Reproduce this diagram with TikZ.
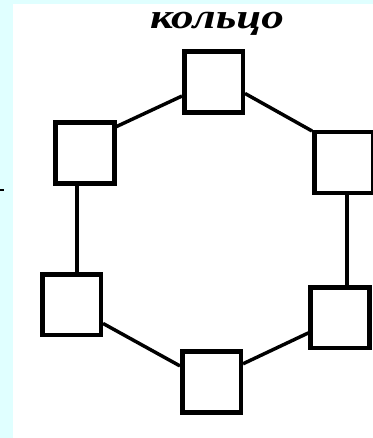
\documentclass[tikz,border=0pt]{standalone}
\usepackage{fontspec}
\usepackage{tikz}
\newfontfamily\ringfont[FakeStretch=1.3]{Liberation Serif}
\definecolor{bgcyan}{RGB}{224,255,255}

\begin{document}
\begin{tikzpicture}[
    x=0.75pt, y=-0.75pt,
    station/.style={rectangle, draw=black, fill=white, line width=3.4pt,
                    minimum width=43.9pt, minimum height=45.4pt, inner sep=0pt},
    link/.style={line width=2.6pt, draw=black},
    title/.style={font=\ringfont\itshape\bfseries\fontsize{26}{26}\selectfont,
                  inner sep=0pt, anchor=base}
]
\useasboundingbox (0,0) rectangle (373,438);
\fill[bgcyan] (0,0) rectangle (373,438);
\fill[white] (13,4) rectangle (373,438);
\draw[line width=1.5pt] (0,190) -- (4,190);

\node[title] (name) at (217,28.5) {кольцо};

\node[station] (top)      at (213.5,82)  {};
\node[station] (upleft)   at (85,153)    {};
\node[station] (upright)  at (343.5,162.5) {};
\node[station] (lowleft)  at (71.5,304.5) {};
\node[station] (lowright) at (340,317.5) {};
\node[station] (bottom)   at (211.5,382) {};

\draw[link] (top.204)      -- (upleft.40);
\draw[link] (top.340)      -- (upright.135);
\draw[link] (upleft.256)   -- (upleft.256 |- lowleft.north);
\draw[link] (upright.276)  -- (upright.276 |- lowright.north);
\draw[link] (lowleft.329)  -- (bottom.153);
\draw[link] (bottom.30)    -- (lowright.206);
\end{tikzpicture}
\end{document}
